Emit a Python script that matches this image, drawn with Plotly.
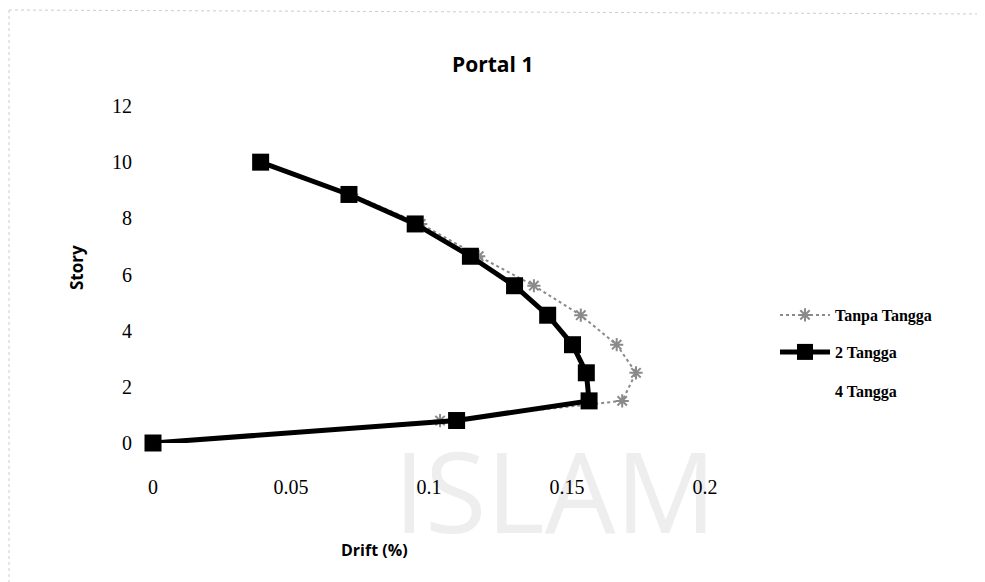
import plotly.graph_objects as go

# ---- data ----
story_levels = [10, 8.85, 7.8, 6.65, 5.6, 4.55, 3.5, 2.5, 1.5, 0.8, 0]
drift_tanpa = [0.039, 0.072, 0.097, 0.118, 0.138, 0.155, 0.168, 0.175, 0.170, 0.104, 0.0]
drift_2 = [0.039, 0.071, 0.095, 0.115, 0.131, 0.143, 0.152, 0.157, 0.158, 0.110, 0.0]
drift_4 = [0.037, 0.068, 0.090, 0.110, 0.125, 0.137, 0.146, 0.152, 0.150, 0.105, 0.0]
series_names = ["Tanpa Tangga", "2 Tangga", "4 Tangga"]
x_ticks = [0, 0.05, 0.1, 0.15, 0.2]
y_ticks = [0, 2, 4, 6, 8, 10, 12]

# the page body adds an 8px offset; work in screen pixels
OFF = 8
W, H = 985 - OFF, 582 - OFF
PL, PR, PT, PB = 153, 705, 106, 443          # plot area in screen pixels
L, R, T, B = PL - OFF, W - (PR - OFF), PT - OFF, H - (PB - OFF)
pw, ph = PR - PL, PB - PT

def px(xs):
    return (xs - PL) / pw

def py(ys):
    return (PB - ys) / ph

serif = "Liberation Serif"
sans = "Open Sans"

fig = go.Figure()

# 4 Tangga (faded away in the reference)
fig.add_trace(go.Scatter(
    x=drift_4, y=story_levels, name=series_names[2], mode="lines",
    line=dict(color="rgba(255,255,255,0)", width=2),
    legend="legend3", cliponaxis=False))

fig.add_trace(go.Scatter(
    x=drift_tanpa, y=story_levels, name=series_names[0], mode="lines+markers",
    line=dict(color="#8a8a8a", width=2, dash="dot"),
    marker=dict(symbol="asterisk-open", size=11, color="#8a8a8a",
                line=dict(color="#8a8a8a", width=2)),
    legend="legend", cliponaxis=False))

fig.add_trace(go.Scatter(
    x=drift_2, y=story_levels, name=series_names[1], mode="lines+markers",
    line=dict(color="#000000", width=5),
    marker=dict(symbol="square", size=17, color="#000000"),
    legend="legend2", cliponaxis=False))

legend_font = dict(family=serif, size=16, color="#000000", weight="bold")
leg_common = dict(x=px(775), xanchor="left", yanchor="middle", font=legend_font,
                  bgcolor="rgba(0,0,0,0)", itemwidth=50)

fig.update_layout(
    width=W, height=H,
    margin=dict(l=L, r=R, t=T, b=B, autoexpand=False),
    paper_bgcolor="white", plot_bgcolor="white",
    showlegend=True,
    legend=dict(y=py(315), **leg_common),
    legend2=dict(y=py(352), **leg_common),
    legend3=dict(y=py(391), **leg_common),
    xaxis=dict(range=[0, 0.2], tickvals=x_ticks, ticktext=[str(v) for v in x_ticks],
               showgrid=False, zeroline=False, showline=False, automargin=False,
               ticks="outside", ticklen=26, tickcolor="rgba(0,0,0,0)",
               tickfont=dict(family=serif, size=20, color="#000")),
    yaxis=dict(range=[0, 12], tickvals=y_ticks, automargin=False,
               showgrid=False, zeroline=False, showline=False,
               ticks="outside", ticklen=16, tickcolor="rgba(0,0,0,0)",
               tickfont=dict(family=serif, size=20, color="#000")),
)

annotations = [
    dict(text="<b>Portal 1</b>", x=px(492), y=py(64), xref="paper", yref="paper",
         showarrow=False, font=dict(family=sans, size=21, color="#000"),
         xanchor="center", yanchor="middle"),
    dict(text="<b>Story</b>", x=px(76), y=py(268), xref="paper", yref="paper",
         showarrow=False, textangle=-90, font=dict(family=sans, size=17, color="#000"),
         xanchor="center", yanchor="middle"),
    dict(text="<b>Drift (%)</b>", x=px(374), y=py(550), xref="paper", yref="paper",
         showarrow=False, font=dict(family=sans, size=16, color="#000"),
         xanchor="center", yanchor="middle"),
]
fig.update_layout(annotations=annotations)

# faint repository watermark, kept beneath the axis labels
fig.add_shape(type="rect", xref="paper", yref="paper", layer="below",
              x0=px(380), x1=px(730), y0=py(550), y1=py(445),
              line=dict(width=0), fillcolor="rgba(0,0,0,0)",
              label=dict(text="ISLAM", textposition="middle center",
                         font=dict(family=sans, size=112, color="#eeeeee")))

# faint dotted chart border seen on the scan
fig.add_shape(type="line", xref="paper", yref="paper",
              x0=px(9), y0=py(10), x1=px(985), y1=py(14),
              line=dict(color="#cccccc", width=1, dash="dot"))
fig.add_shape(type="line", xref="paper", yref="paper",
              x0=px(9), y0=py(10), x1=px(9), y1=py(582),
              line=dict(color="#cccccc", width=1, dash="dot"))

fig.write_html("out.html")
